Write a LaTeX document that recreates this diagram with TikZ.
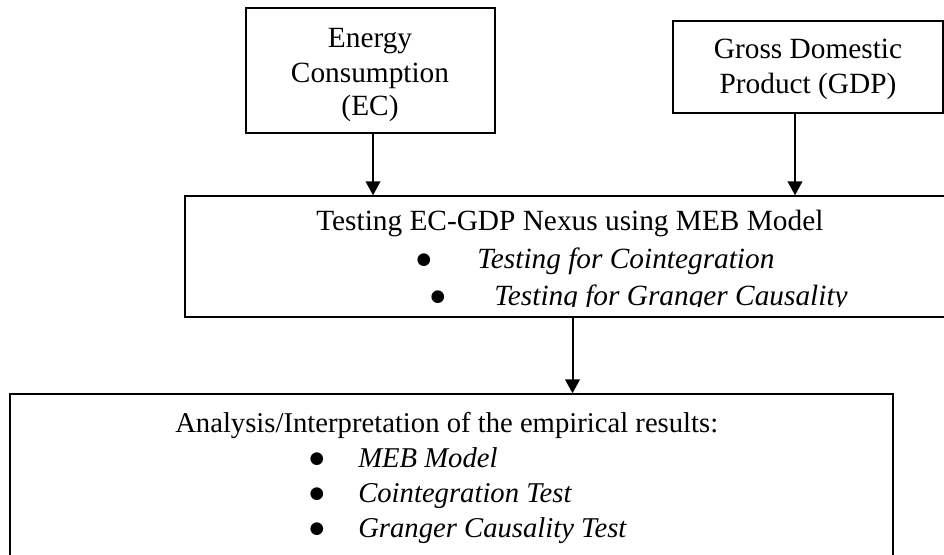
\documentclass[tikz,border=0pt]{standalone}
\usepackage{fontspec}
\setmainfont{Liberation Serif}
\newfontfamily\bltfont{DejaVu Sans}
\usetikzlibrary{arrows.meta}
\usetikzlibrary{fit}
\newcommand{\blt}{\raisebox{2.8pt}{\bltfont\fontsize{12.5}{14}\selectfont ●}}
\tikzset{%
    box/.style={draw, line width=1.1pt, inner sep=0pt},%
    txt/.style={inner sep=0pt, font=\fontsize{22}{24}\selectfont},%
    txtb/.style={inner sep=0pt, font=\fontsize{21.5}{24}\selectfont},%
    flow/.style={line width=1.5pt, -{Triangle[length=10.5pt,width=11pt]}},%
}

\begin{document}
\begin{tikzpicture}[x=0.75pt,y=0.75pt,yscale=-1,xscale=1]
%set diagram left start at 0, and has height of 554
\clip (0,0) rectangle (944,554);

%Shape: Rectangle [id:ec]
\node [box, fit={(246,8) (495,133)}] (ec) {};
\node [txt, anchor=base] (ecA) at (370,47) {Energy};
\node [txt, anchor=base] (ecB) at (370,82) {Consumption};
\node [txt, anchor=base] (ecC) at (370,115) {(EC)};

%Shape: Rectangle [id:gdp]
\node [box, fit={(673,21) (943,113)}] (gdp) {};
\node [txt, anchor=base] (gdpA) at (808,58) {Gross Domestic};
\node [txt, anchor=base] (gdpB) at (808,93) {Product (GDP)};

%Shape: Rectangle [id:nexus]
\node [box, fit={(185,196) (960,317)}] (nexus) {};
\begin{scope}
\clip (185,196) rectangle (960,306);
\node [txt, anchor=base west] (nexusA) at (316,230) {Testing EC-GDP Nexus using MEB Model};
\node [txt, anchor=base] (nexusB1) at (424,268) {\blt};
\node [txt, anchor=base west] (nexusB) at (477,268) {\textit{Testing for Cointegration}};
\node [txt, anchor=base] (nexusC1) at (438,305) {\blt};
\node [txt, anchor=base west] (nexusC) at (494,305) {\textit{Testing for Granger Causality}};
\end{scope}

%Shape: Rectangle [id:results]
\node [box, fit={(10,394) (893,580)}] (results) {};
\node [txtb, anchor=base west] (resA) at (175,432) {Analysis/Interpretation of the empirical results:};
\node [txtb, anchor=base] (resB1) at (317,467) {\blt};
\node [txtb, anchor=base west] (resB) at (358,467) {\textit{MEB Model}};
\node [txtb, anchor=base] (resC1) at (317,502) {\blt};
\node [txtb, anchor=base west] (resC) at (358,502) {\textit{Cointegration Test}};
\node [txtb, anchor=base] (resD1) at (317,537) {\blt};
\node [txtb, anchor=base west] (resD) at (358,537) {\textit{Granger Causality Test}};

%Straight Lines [id:ec-nexus]
\draw [flow] ([xshift=1.9pt]ec.south) -- ([xshift=1.9pt]ec.south |- nexus.north);
%Straight Lines [id:gdp-nexus]
\draw [flow] ([xshift=-9.75pt]gdp.south) -- ([xshift=-9.75pt]gdp.south |- nexus.north);
%Straight Lines [id:nexus-results]
\draw [flow] (nexus.south) -- (nexus.south |- results.north);

\end{tikzpicture}
\end{document}
